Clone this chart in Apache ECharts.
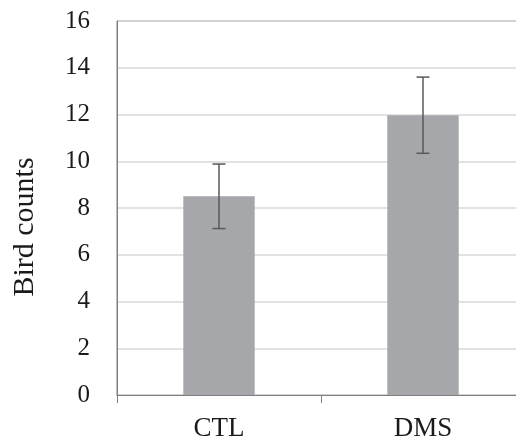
<!DOCTYPE html>
<html>
<head>
<meta charset="utf-8">
<script src="https://cdn.jsdelivr.net/npm/echarts@6/dist/echarts.min.js"></script>
<style>
html,body{margin:0;padding:0;background:#fff;}
#chart{width:516px;height:441px;}
</style>
</head>
<body>
<div id="chart"></div>
<script>
const categories = ['CTL', 'DMS'];
const meanValues = [8.5, 11.97];
const errorValues = [1.38, 1.63];
const yTicks = [0, 2, 4, 6, 8, 10, 12, 14, 16];

const errorData = categories.map((c, i) => [i, meanValues[i] - errorValues[i], meanValues[i] + errorValues[i]]);

const chart = echarts.init(document.getElementById('chart'), null, {renderer: 'canvas'});
const font = 'Liberation Serif, Times New Roman, serif';
chart.setOption({
  animation: false,
  backgroundColor: '#ffffff',
  grid: {
    left: 117, top: 21, bottom: 46, width: 408,
    outerBoundsMode: 'none',
    containLabel: false,
    show: true, borderColor: '#7f7f7f', borderWidth: 1, backgroundColor: 'transparent'
  },
  xAxis: {
    type: 'category',
    data: categories,
    axisLine: {show: true, lineStyle: {color: '#7f7f7f', width: 1}},
    axisTick: {show: true, length: 8, alignWithLabel: false, lineStyle: {color: '#7f7f7f'}},
    axisLabel: {fontFamily: font, fontSize: 27, color: '#1a1a1a', margin: 20},
    splitLine: {show: false}
  },
  yAxis: {
    type: 'value',
    min: yTicks[0], max: yTicks[yTicks.length - 1], interval: 2,
    name: 'Bird counts',
    nameLocation: 'middle',
    nameRotate: 90,
    nameGap: 77,
    nameTextStyle: {fontFamily: font, fontSize: 30, color: '#1a1a1a', padding: [0, 38, 0, 0]},
    axisLine: {show: true, lineStyle: {color: '#7f7f7f', width: 1}},
    axisTick: {show: false},
    axisLabel: {fontFamily: font, fontSize: 25, color: '#1a1a1a', margin: 27},
    splitLine: {show: true, lineStyle: {color: '#d9d9d9', width: 1.5}}
  },
  series: [
    {
      type: 'bar',
      data: meanValues,
      barWidth: '35%',
      itemStyle: {color: '#a5a7aa'}
    },
    {
      type: 'custom',
      data: errorData,
      z: 10,
      renderItem: function (params, api) {
        const x = api.value(0);
        const lo = api.coord([x, api.value(1)]);
        const hi = api.coord([x, api.value(2)]);
        const hw = 6.5;
        const style = {stroke: '#595959', lineWidth: 1.5};
        return {
          type: 'group',
          children: [
            {type: 'line', shape: {x1: hi[0], y1: hi[1], x2: lo[0], y2: lo[1]}, style: style},
            {type: 'line', shape: {x1: hi[0] - hw, y1: hi[1], x2: hi[0] + hw, y2: hi[1]}, style: style},
            {type: 'line', shape: {x1: lo[0] - hw, y1: lo[1], x2: lo[0] + hw, y2: lo[1]}, style: style}
          ]
        };
      }
    }
  ]
});
</script>
</body>
</html>
